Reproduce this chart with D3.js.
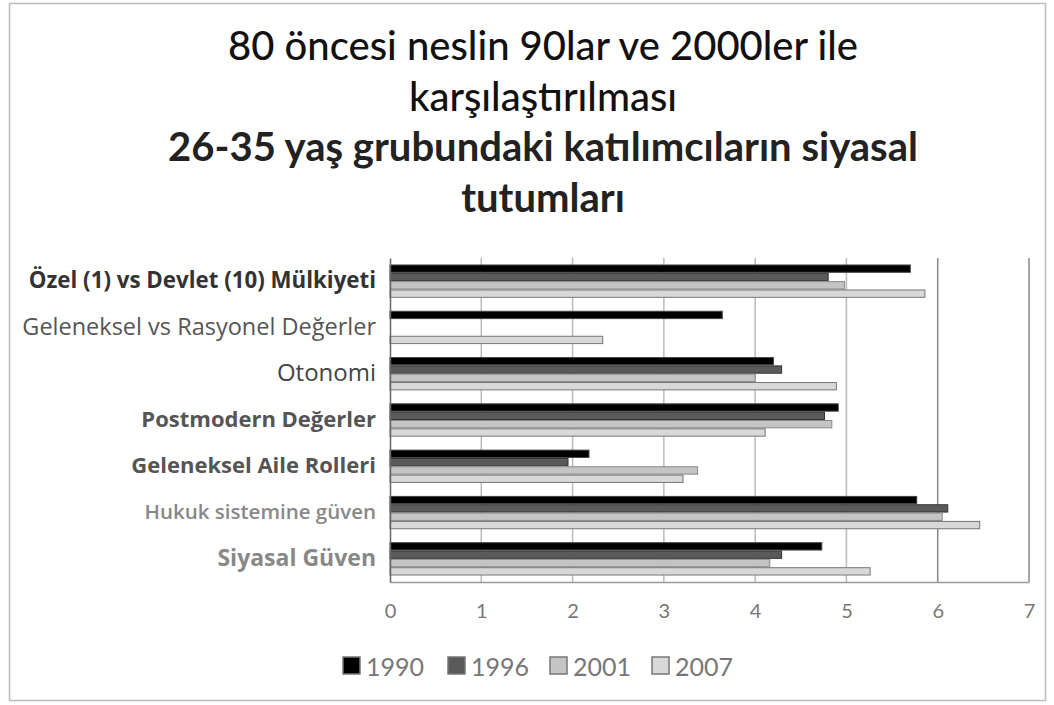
<!DOCTYPE html>
<html><head><meta charset="utf-8">
<script src="https://cdn.jsdelivr.net/npm/d3@7"></script>
<style>body{margin:0;background:#fff}svg{display:block}</style>
</head><body>
<svg id="c" width="1054" height="705"></svg>
<script>
const titleLines = ["80 öncesi neslin 90lar ve 2000ler ile","karşılaştırılması","26-35 yaş grubundaki katılımcıların siyasal","tutumları"];
const categories = ["Özel (1) vs Devlet (10) Mülkiyeti","Geleneksel vs Rasyonel Değerler","Otonomi","Postmodern Değerler","Geleneksel Aile Rolleri","Hukuk sistemine güven","Siyasal Güven"];
const seriesNames = ["1990","1996","2001","2007"];
const v1990 = [5.70, 3.64, 4.20, 4.91, 2.18, 5.77, 4.73];
const v1996 = [4.80, null, 4.29, 4.76, 1.95, 6.11, 4.29];
const v2001 = [4.98, null, 4.00, 4.84, 3.37, 6.05, 4.16];
const v2007 = [5.86, 2.33, 4.89, 4.11, 3.21, 6.46, 5.26];
const tickValues = [0,1,2,3,4,5,6,7];

const seriesVals = [v1990, v1996, v2001, v2007];
const fills = ["#000000","#5a5a5a","#c4c4c4","#d8d8d8"];
const strokes = ["#444","#333","#888","#777"];
const labelStyle = [
  {w:700,c:"#333",s:22.3},{w:400,c:"#555",s:23.5},{w:400,c:"#444",s:24},{w:700,c:"#555",s:22},
  {w:700,c:"#555",s:22},{w:600,c:"#888",s:20.5},{w:700,c:"#888",s:23}];

const svg = d3.select("#c");
svg.append("rect").attr("x",9.5).attr("y",3.5).attr("width",1036).attr("height",697)
  .attr("fill","#fff").attr("stroke","#bbb").attr("stroke-width",1.5);

const title = svg.append("g").attr("font-family","Lato, 'Open Sans', sans-serif")
  .attr("text-anchor","middle");
titleLines.forEach((t,i)=>{
  title.append("text").attr("x",543).attr("y",60+i*50.5)
    .attr("font-size",40).attr("font-weight",i<2?500:700)
    .attr("fill", i<2?"#111":"#222").text(t);
});

const x = d3.scaleLinear().domain([0,7]).range([390,1029]);
const y0 = d3.scaleBand().domain(categories).range([258,582]).paddingInner(0.28).paddingOuter(0.14);
const y1 = d3.scaleBand().domain(seriesNames).range([0,y0.bandwidth()]);

// gridlines
svg.append("g").selectAll("line").data(tickValues.slice(1)).join("line")
  .attr("x1",d=>x(d)).attr("x2",d=>x(d)).attr("y1",258).attr("y2",582)
  .attr("stroke",d=>d>=6?"#888":"#bbb").attr("stroke-width",1.5);

// bars
const g = svg.append("g");
seriesNames.forEach((s,si)=>{
  const data = categories.map((c,ci)=>({c, v:seriesVals[si][ci]})).filter(d=>d.v!=null);
  g.append("g").selectAll("rect").data(data).join("rect")
    .attr("x",x(0)).attr("y",d=>y0(d.c)+y1(s)+0.5)
    .attr("width",d=>x(d.v)-x(0)).attr("height",y1.bandwidth()-1)
    .attr("fill",fills[si]).attr("stroke",strokes[si]).attr("stroke-width",1);
});

// axes
const xAxis = d3.axisBottom(x).tickValues(tickValues).tickSize(0).tickPadding(22).tickFormat(d3.format("d"));
const ax = svg.append("g").attr("transform","translate(0,582)").call(xAxis);
ax.select(".domain").attr("stroke","#999").attr("stroke-width",1.5);
ax.selectAll("text").attr("font-family","Lato, sans-serif").attr("font-size",20).attr("fill","#777");

const yAxis = d3.axisLeft(y0).tickSize(0).tickPadding(14);
const ay = svg.append("g").attr("transform","translate(390,0)").call(yAxis);
ay.select(".domain").attr("stroke","#666").attr("stroke-width",1.5);
ay.selectAll("text").attr("font-family","'Open Sans', sans-serif")
  .attr("font-size",(d,i)=>labelStyle[i].s)
  .attr("font-weight",(d,i)=>labelStyle[i].w).attr("fill",(d,i)=>labelStyle[i].c);

// legend
const legX = [343, 448, 550, 652];
const leg = svg.append("g");
seriesNames.forEach((s,i)=>{
  leg.append("rect").attr("x",legX[i]).attr("y",657).attr("width",17).attr("height",17)
    .attr("fill",fills[i]).attr("stroke","#777").attr("stroke-width",1.5);
  leg.append("text").attr("x",legX[i]+23).attr("y",676).attr("font-family","Lato, sans-serif")
    .attr("font-size",25).attr("fill","#777").text(s);
});
</script>
</body></html>
